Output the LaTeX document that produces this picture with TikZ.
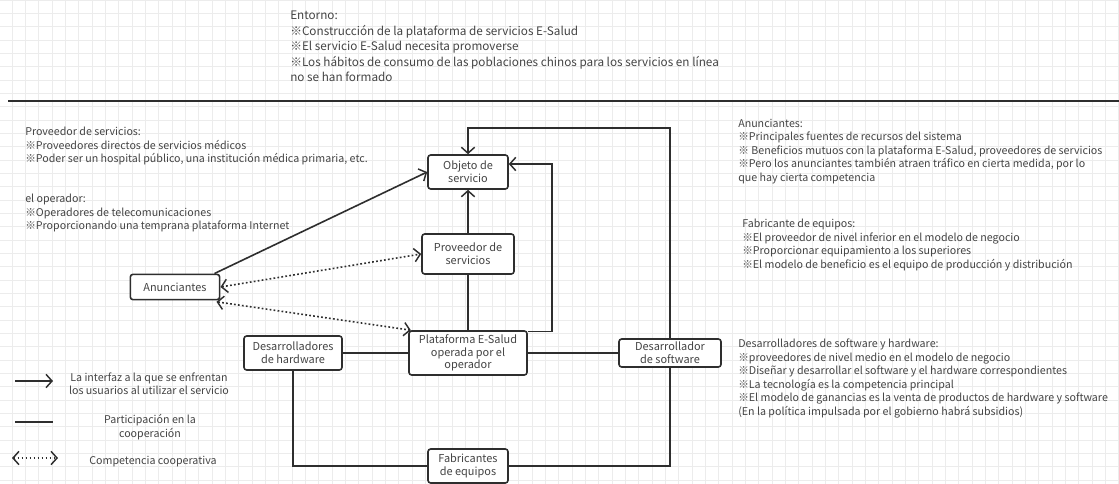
\documentclass[tikz,border=0pt]{standalone}
\usepackage{fontspec}
\setmainfont{Noto Sans CJK SC}
\usetikzlibrary{arrows.meta}
\definecolor{ln}{HTML}{2E2E2E}
\definecolor{tx}{HTML}{444444}
\definecolor{gridc}{HTML}{ECECEC}
\tikzset{
  box/.style={draw=ln, line width=1.2pt, rounded corners=2pt, fill=white, align=center, text=tx, inner sep=1pt, font=\fontsize{8.2}{9.6}\selectfont},
  conn/.style={draw=ln, line width=1.2pt},
  arr/.style={conn, -{Straight Barb[length=4.5pt,width=10pt,line width=1.1pt]}},
  dotarr/.style={conn, dash pattern=on 1.3pt off 1.7pt, {Straight Barb[length=4.5pt,width=10pt,line width=1.1pt]}-{Straight Barb[length=4.5pt,width=10pt,line width=1.1pt]}},
  note/.style={anchor=north west, align=left, inner sep=0pt, text=tx, font=\fontsize{8}{10.1}\selectfont},
  leg/.style={align=center, inner sep=0pt, text=tx, font=\fontsize{8}{10}\selectfont}
}
\begin{document}
\begin{tikzpicture}[x=0.75pt,y=-0.75pt]
\fill[white] (0,0) rectangle (1119,484);
\useasboundingbox (0,0) rectangle (1119,484);
% grid
\foreach \i in {0,...,83} {\draw[gridc, line width=0.4pt] ({12+13.333*\i},0) -- ({12+13.333*\i},484);}
\foreach \j in {0,...,36} {\draw[gridc, line width=0.4pt] (0,{13.333*\j}) -- (1119,{13.333*\j});}
% separator
\draw[ln, line width=1.3pt] (8,101) -- (1119,101);
% texts
\node[note, font=\fontsize{8.8}{11.6}\selectfont] (env) at (290,11) {Entorno:\\※Construcción de la plataforma de servicios E-Salud\\※El servicio E-Salud necesita promoverse\\※Los hábitos de consumo de las poblaciones chinos para los servicios en línea\\no se han formado};
\node[note] (tprov) at (25,127) {Proveedor de servicios:\\※Proveedores directos de servicios médicos\\※Poder ser un hospital público, una institución médica primaria, etc.};
\node[note] (toper) at (25,194) {el operador:\\※Operadores de telecomunicaciones\\※Proporcionando una temprana plataforma Internet};
\node[note] (tanun) at (738,119) {Anunciantes:\\※Principales fuentes de recursos del sistema\\※ Beneficios mutuos con la plataforma E-Salud, proveedores de servicios\\※Pero los anunciantes también atraen tráfico en cierta medida, por lo\\que hay cierta competencia};
\node[note] (tfab) at (742,219) {Fabricante de equipos:\\※El proveedor de nivel inferior en el modelo de negocio\\※Proporcionar equipamiento a los superiores\\※El modelo de beneficio es el equipo de producción y distribución};
\node[note] (tdes) at (738,339) {Desarrolladores de software y hardware:\\※proveedores de nivel medio en el modelo de negocio\\※Diseñar y desarrollar el software y el hardware correspondientes\\※La tecnología es la competencia principal\\※El modelo de ganancias es la venta de productos de hardware y software\\(En la política impulsada por el gobierno habrá subsidios)};
% nodes
\node[box, minimum width=60pt, minimum height=25.5pt] (obj) at (468,172) {Objeto de\\servicio};
\node[box, minimum width=69pt, minimum height=30pt] (prov) at (468,254) {Proveedor de\\servicios};
\node[box, minimum width=88.5pt, minimum height=33pt] (plat) at (468,353) {Plataforma E-Salud\\operada por el\\operador};
\node[box, minimum width=73.5pt, minimum height=25.5pt] (hw) at (293,353) {Desarrolladores\\de hardware};
\node[box, minimum width=76.5pt, minimum height=21pt] (soft) at (670,353) {Desarrollador\\de software};
\node[box, minimum width=60pt, minimum height=25.5pt] (fab) at (468,466) {Fabricantes\\de equipos};
\node[box, minimum width=67pt, minimum height=19pt] (anun) at (175,287) {Anunciantes};
% connectors
\coordinate (c1) at (552,164);
\coordinate (ctop) at (468,128);
\draw[arr] ([xshift=-4.5pt]anun.north east) -- (obj.west);
\draw[arr] (prov.north) -- (obj.south);
\draw[conn] (plat.north) -- (prov.south);
\draw[arr] ([yshift=-1pt]plat.north east) -| (c1) -- ([yshift=6pt]obj.east);
\draw[arr] (soft.north) |- (ctop) -- (obj.north);
\draw[conn] (hw.east) -- (plat.west);
\draw[conn] (plat.east) -- (soft.west);
\draw[conn] (hw.south) |- (fab.west);
\draw[conn] (soft.south) |- (fab.east);
\draw[dotarr] (anun.east) -- (prov.west);
\draw[dotarr] ([xshift=-3pt,yshift=-1pt]anun.south east) -- ([xshift=2pt]plat.north west);
% legend
\coordinate (l1a) at (15,381); \coordinate (l1b) at (53,381);
\coordinate (l2a) at (15,422); \coordinate (l2b) at (53,422);
\coordinate (l3a) at (12,458); \coordinate (l3b) at (58,458);
\draw[arr] (l1a) -- (l1b);
\draw[conn] (l2a) -- (l2b);
\draw[dotarr] (l3a) -- (l3b);
\node[leg] (lt1) at (149,384) {La interfaz a la que se enfrentan\\los usuarios al utilizar el servicio};
\node[leg] (lt2) at (150,427) {Participación en la\\cooperación};
\node[leg] (lt3) at (153,462) {Competencia cooperativa};
\end{tikzpicture}
\end{document}
